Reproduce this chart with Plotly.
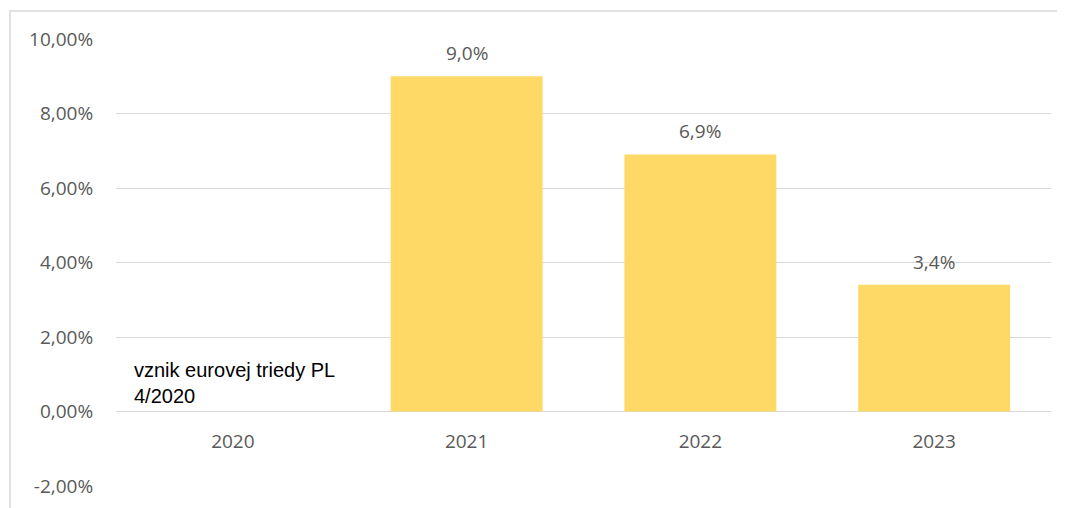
import plotly.graph_objects as go

categories = ["2020", "2021", "2022", "2023"]
values = [None, 9.0, 6.9, 3.4]
y_ticks = [-2, 0, 2, 4, 6, 8, 10]
note_text = "vznik eurovej triedy PL<br>4/2020"

BAR_COLOR = "#FFD966"
GRID = "#D9D9D9"
TXT = "#595959"
FONT = "Open Sans"

y_min, y_max = -2, 10

fig = go.Figure()
fig.add_trace(go.Bar(
    x=categories, y=values, marker=dict(color=BAR_COLOR, line=dict(width=0)),
    width=0.65, hoverinfo="skip", showlegend=False,
))

# data labels above the bars (category index positions)
for i, v in enumerate(values):
    if v is None:
        continue
    fig.add_annotation(
        x=i, y=v, xref="x", yref="y", text=f"{v:.1f}%".replace(".", ","),
        showarrow=False, yanchor="bottom", yshift=8,
        font=dict(family=FONT, size=19, color=TXT),
    )

# note for 2020
fig.add_annotation(
    x=0.017, xref="paper", y=0, yref="y", text=note_text, align="left",
    xanchor="left", yanchor="bottom", yshift=3, showarrow=False,
    font=dict(family="Liberation Sans, Arial", size=20, color="#000000"),
)

L, T, PW, PH = 108, 31, 935, 447
fig.update_layout(
    width=1065, height=508,
    margin=dict(l=L, r=1065 - L - PW, t=T, b=508 - T - PH),
    paper_bgcolor="white", plot_bgcolor="white",
    separators=",.",
    xaxis=dict(
        type="category", anchor="free", automargin=False,
        position=(0 - y_min) / (y_max - y_min),
        range=[-0.5, len(categories) - 0.5],
        showline=False, showgrid=False,
        ticks="outside", ticklen=13, tickcolor="rgba(0,0,0,0)",
        tickfont=dict(family=FONT, size=19, color=TXT),
    ),
    yaxis=dict(
        range=[y_min, y_max], tickvals=y_ticks, automargin=False,
        ticktext=[f"{t:.2f}%".replace(".", ",") for t in y_ticks],
        showgrid=True, gridcolor=GRID, gridwidth=1.3,
        zeroline=True, zerolinecolor=GRID, zerolinewidth=1.3,
        showline=False,
        ticks="outside", ticklen=18, tickcolor="rgba(0,0,0,0)",
        tickfont=dict(family=FONT, size=19, color=TXT),
    ),
    shapes=[dict(
        type="rect", xref="paper", yref="paper",
        x0=(2 - L) / PW, x1=(1075 - L) / PW,
        y0=-60 / PH, y1=(T + PH - 3) / PH,
        line=dict(color=GRID, width=1.5), fillcolor="rgba(0,0,0,0)", layer="below",
    )],
)

fig.write_html("out.html")
